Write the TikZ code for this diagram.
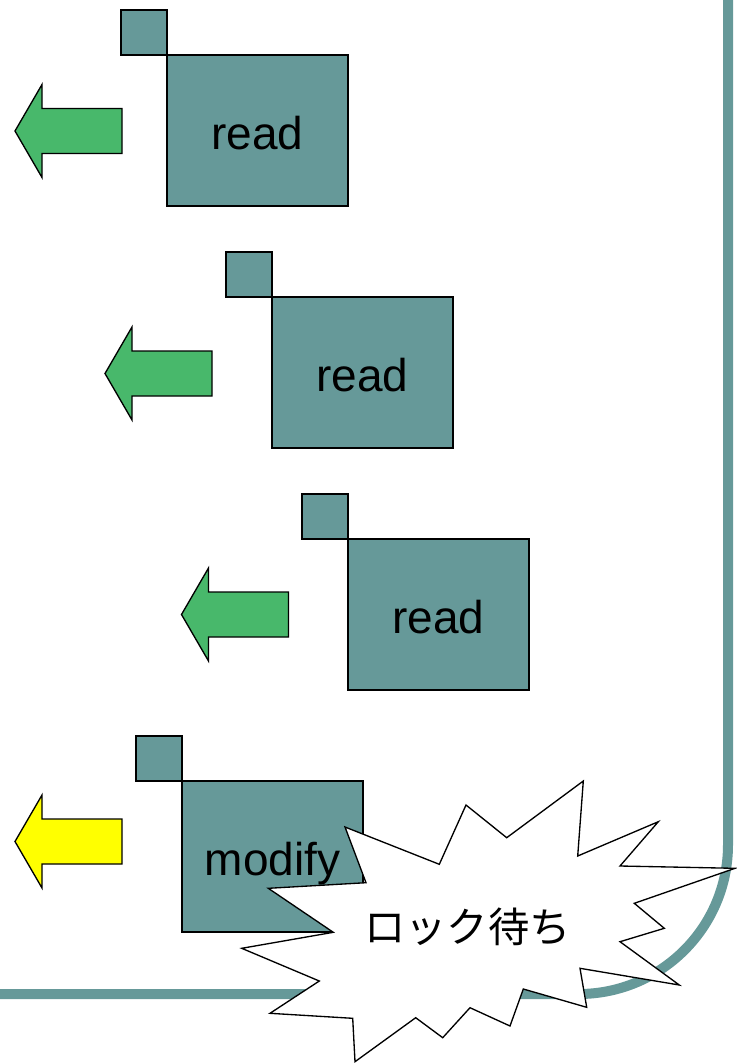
\documentclass[tikz,border=0pt]{standalone}
\usepackage{fontspec}
\setmainfont{Liberation Sans}
\newfontfamily\jpfont{Noto Sans CJK JP}
\definecolor{myteal}{HTML}{669999}
\definecolor{mygreen}{HTML}{48B86B}
\definecolor{myyellow}{HTML}{FFFF00}
\tikzset{
  boxbase/.style={draw=black, fill=myteal, line width=1pt, inner sep=0pt, outer sep=0pt, anchor=north west},
  smallbox/.style={boxbase, minimum width=34.5pt, minimum height=33.75pt},
  bigbox/.style={boxbase, minimum width=135.75pt, minimum height=113.25pt,
    font=\fontsize{34.5}{40}\selectfont, text height=29pt, text depth=0pt},
  larrow/.pic={\path[pic actions] (0,0) -- (27,-46.5) -- (27,-22.5) -- (107,-22.5) -- (107,22.5) -- (27,22.5) -- (27,46.5) -- cycle;},
  arrowline/.style={draw=black, line width=1pt, line join=miter},
  burst/.style={draw=black, fill=white, line width=1pt, line join=miter},
  frameline/.style={draw=myteal, line width=7.5pt, rounded corners=112pt}
}
\begin{document}
\begin{tikzpicture}[x=0.75pt,y=-0.75pt]
\useasboundingbox (0,0) rectangle (736,1063);
% frame
\coordinate (ftop) at (728,-20);
\coordinate (fcorner) at (728,994);
\coordinate (fleft) at (-20,994);
\draw[frameline] (ftop) -- (fcorner) -- (fleft);
% group 1
\node[smallbox] (s1) at (121,10) {};
\node[bigbox] (b1) at (167,55) {read};
\pic[arrowline, fill=mygreen] at (15,131) {larrow};
% group 2
\node[smallbox] (s2) at (226,252) {};
\node[bigbox] (b2) at (272,297) {read};
\pic[arrowline, fill=mygreen] at (105,373.5) {larrow};
% group 3
\node[smallbox] (s3) at (302,494) {};
\node[bigbox] (b3) at (348,539) {read};
\pic[arrowline, fill=mygreen] at (181.5,614.5) {larrow};
% group 4
\node[smallbox] (s4) at (136,736) {};
\node[bigbox] (b4) at (182,781) {modify};
\pic[arrowline, fill=myyellow] at (15,841.5) {larrow};
% burst
\draw[burst] (345,827) -- (439.3,864.3) -- (466,805) -- (506.7,837.7) -- (583.3,781)
  -- (577.7,856) -- (658.3,821.7) -- (620,866) -- (735,868.3) -- (634.3,903.3)
  -- (664.3,928.3) -- (620,941.7) -- (679.3,985) -- (580,968.3) -- (586.7,1007.3)
  -- (523.3,989) -- (510,1026) -- (470,1007.7) -- (442.7,1037.7) -- (415.7,1017.7)
  -- (355,1061.7) -- (352.7,1018.3) -- (270,1013.3) -- (319.3,981) -- (241.7,948.3)
  -- (333.3,932.3) -- (268.3,888.3) -- (366,882.7) -- cycle;
\node[font=\jpfont\fontsize{31}{36}\selectfont, inner sep=0pt] (wait) at (467.5,926.7) {ロック待ち};
\end{tikzpicture}
\end{document}
